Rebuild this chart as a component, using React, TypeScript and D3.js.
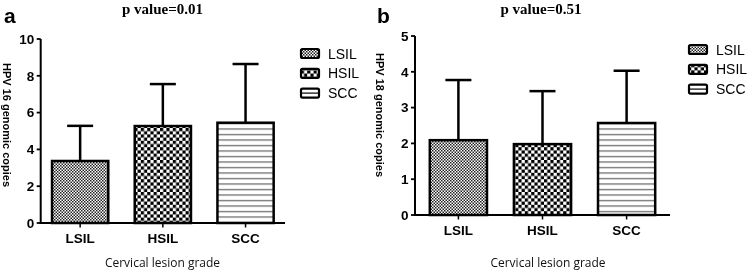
import React from "react";
import * as d3 from "d3";

const categories = ["LSIL", "HSIL", "SCC"];
const hpv16Mean = [3.37, 5.27, 5.45];
const hpv16SD = [1.91, 2.28, 3.19];
const hpv18Mean = [2.09, 1.98, 2.57];
const hpv18SD = [1.68, 1.48, 1.46];
const hpv16Ticks = [0, 2, 4, 6, 8, 10];
const hpv18Ticks = [0, 1, 2, 3, 4, 5];
const panelLetters = ["a", "b"];
const pTitles = ["p value=0.01", "p value=0.51"];
const yTitles = ["HPV 16 genomic copies", "HPV 18 genomic copies"];
const xTitle = "Cervical lesion grade";

const patternIds = ["pLSIL", "pHSIL", "pSCC"];

type PanelProps = {
  letter: string;
  title: string;
  yTitle: string;
  means: number[];
  sds: number[];
  ticks: number[];
  ax: number;
  y0: number;
  yTop: number;
  xEnd: number;
  po: number;
  titleX: number;
  xTitleX: number;
  yTitleY: number;
  legendX: number;
  legendY: number;
  letterX: number;
  yMax: number;
};

function Panel(p: PanelProps) {
  const x = d3
    .scaleBand<string>()
    .domain(categories)
    .range([p.ax, p.xEnd])
    .paddingInner(0.32)
    .paddingOuter(p.po);
  const y = d3.scaleLinear().domain([0, p.yMax]).range([p.y0, p.yTop]);
  const bw = x.bandwidth();
  const capW = 26;
  const sans = "'Liberation Sans', Arial, sans-serif";
  return (
    <g>
      <text x={p.letterX} y={22.5} fontFamily={sans} fontWeight="bold" fontSize={21}>
        {p.letter}
      </text>
      <text
        x={p.titleX}
        y={13.5}
        textAnchor="middle"
        fontFamily="'Liberation Serif', 'Times New Roman', serif"
        fontWeight="bold"
        fontSize={15}
      >
        {p.title}
      </text>
      {/* bars */}
      {categories.map((c, i) => {
        const bx = x(c)!;
        const top = y(p.means[i]);
        const errTop = y(p.means[i] + p.sds[i]);
        const cx = bx + bw / 2;
        return (
          <g key={c}>
            <line x1={cx} x2={cx} y1={top} y2={errTop} stroke="#000" strokeWidth={2.5} />
            <line x1={cx - capW / 2} x2={cx + capW / 2} y1={errTop} y2={errTop} stroke="#000" strokeWidth={2.5} />
            <rect x={bx} y={top} width={bw} height={p.y0 - top} fill="#fff" />
            <rect
              x={bx}
              y={top}
              width={bw}
              height={p.y0 - top}
              fill={`url(#${patternIds[i]})`}
              stroke="#000"
              strokeWidth={2.5}
            />
          </g>
        );
      })}
      {/* y axis */}
      <line x1={p.ax} x2={p.ax} y1={p.y0} y2={p.yTop} stroke="#000" strokeWidth={2} />
      {p.ticks.map((t) => (
        <g key={t}>
          <line x1={p.ax - 4} x2={p.ax} y1={y(t)} y2={y(t)} stroke="#000" strokeWidth={1.8} />
          <text
            x={p.ax - 6.5}
            y={y(t)}
            dy="0.36em"
            textAnchor="end"
            fontFamily={sans}
            fontWeight="bold"
            fontSize={13.5}
          >
            {t}
          </text>
        </g>
      ))}
      {/* x axis */}
      <line x1={p.ax - 1} x2={p.xEnd} y1={p.y0} y2={p.y0} stroke="#000" strokeWidth={2} />
      {categories.map((c) => {
        const cx = x(c)! + bw / 2;
        return (
          <g key={c}>
            <line x1={cx} x2={cx} y1={p.y0} y2={p.y0 + 4.5} stroke="#000" strokeWidth={1.5} />
            <text x={cx} y={p.y0 + 20} textAnchor="middle" fontFamily={sans} fontWeight="bold" fontSize={13.5}>
              {c}
            </text>
          </g>
        );
      })}
      <text
        x={p.xTitleX}
        y={266.5}
        textAnchor="middle"
        fontFamily="'Open Sans', sans-serif"
        fontSize={12}
        fill="#111"
      >
        {xTitle}
      </text>
      <text
        transform={`translate(${p.letterX - 1},${p.yTitleY}) rotate(90)`}
        textAnchor="middle"
        fontFamily={sans}
        fontWeight="bold"
        fontSize={11}
        fill="#000"
      >
        {p.yTitle}
      </text>
      {/* legend */}
      {categories.map((c, i) => {
        const cy = p.legendY + i * 19.8;
        return (
          <g key={c}>
            <rect x={p.legendX} y={cy - 4.5} width={18} height={9} rx={1.5} fill="#fff" />
            <rect
              x={p.legendX}
              y={cy - 4.5}
              width={18}
              height={9}
              rx={1.5}
              fill={i === 2 ? "#fff" : `url(#${patternIds[i]})`}
              stroke="#000"
              strokeWidth={2.2}
            />
            {i === 2 && (
              <line x1={p.legendX + 1} x2={p.legendX + 17} y1={cy} y2={cy} stroke="#000" strokeWidth={1.2} />
            )}
            <text x={p.legendX + 27} y={cy} dy="0.36em" fontFamily={sans} fontSize={14}>
              {c}
            </text>
          </g>
        );
      })}
    </g>
  );
}

export default function App() {
  return (
    <svg
      width={750}
      height={280}
      style={{ position: "absolute", left: 0, top: 0, background: "#fff", filter: "grayscale(1)" }}
    >
      <defs>
        <pattern id="pLSIL" patternUnits="userSpaceOnUse" width={3} height={3}>
          <rect width={3} height={3} fill="#fff" />
          <rect x={0} y={0} width={1.5} height={1.5} fill="#222" />
          <rect x={1.5} y={1.5} width={1.5} height={1.5} fill="#222" />
        </pattern>
        <pattern id="pHSIL" patternUnits="userSpaceOnUse" width={6.4} height={6.4}>
          <rect width={6.4} height={6.4} fill="#fff" />
          <rect x={0} y={0} width={3.2} height={3.2} fill="#000" />
          <rect x={3.2} y={3.2} width={3.2} height={3.2} fill="#000" />
        </pattern>
        <pattern id="pSCC" patternUnits="userSpaceOnUse" width={10} height={5.5}>
          <rect width={10} height={5.5} fill="#fff" />
          <rect x={0} y={2} width={10} height={1.1} fill="#555" />
        </pattern>
      </defs>
      <rect width={750} height={280} fill="#fff" />
      <Panel
        letter={panelLetters[0]}
        title={pTitles[0]}
        yTitle={yTitles[0]}
        means={hpv16Mean}
        sds={hpv16SD}
        ticks={hpv16Ticks}
        yMax={10}
        ax={40.7}
        y0={223}
        yTop={39}
        xEnd={285}
        po={0.137}
        titleX={162.5}
        xTitleX={162.5}
        yTitleY={125}
        legendX={301}
        legendY={53.5}
        letterX={4}
      />
      <Panel
        letter={panelLetters[1]}
        title={pTitles[1]}
        yTitle={yTitles[1]}
        means={hpv18Mean}
        sds={hpv18SD}
        ticks={hpv18Ticks}
        yMax={5}
        ax={415}
        y0={215}
        yTop={36}
        xEnd={670}
        po={0.176}
        titleX={541}
        xTitleX={548}
        yTitleY={115}
        legendX={689}
        legendY={49.5}
        letterX={377}
      />
    </svg>
  );
}
